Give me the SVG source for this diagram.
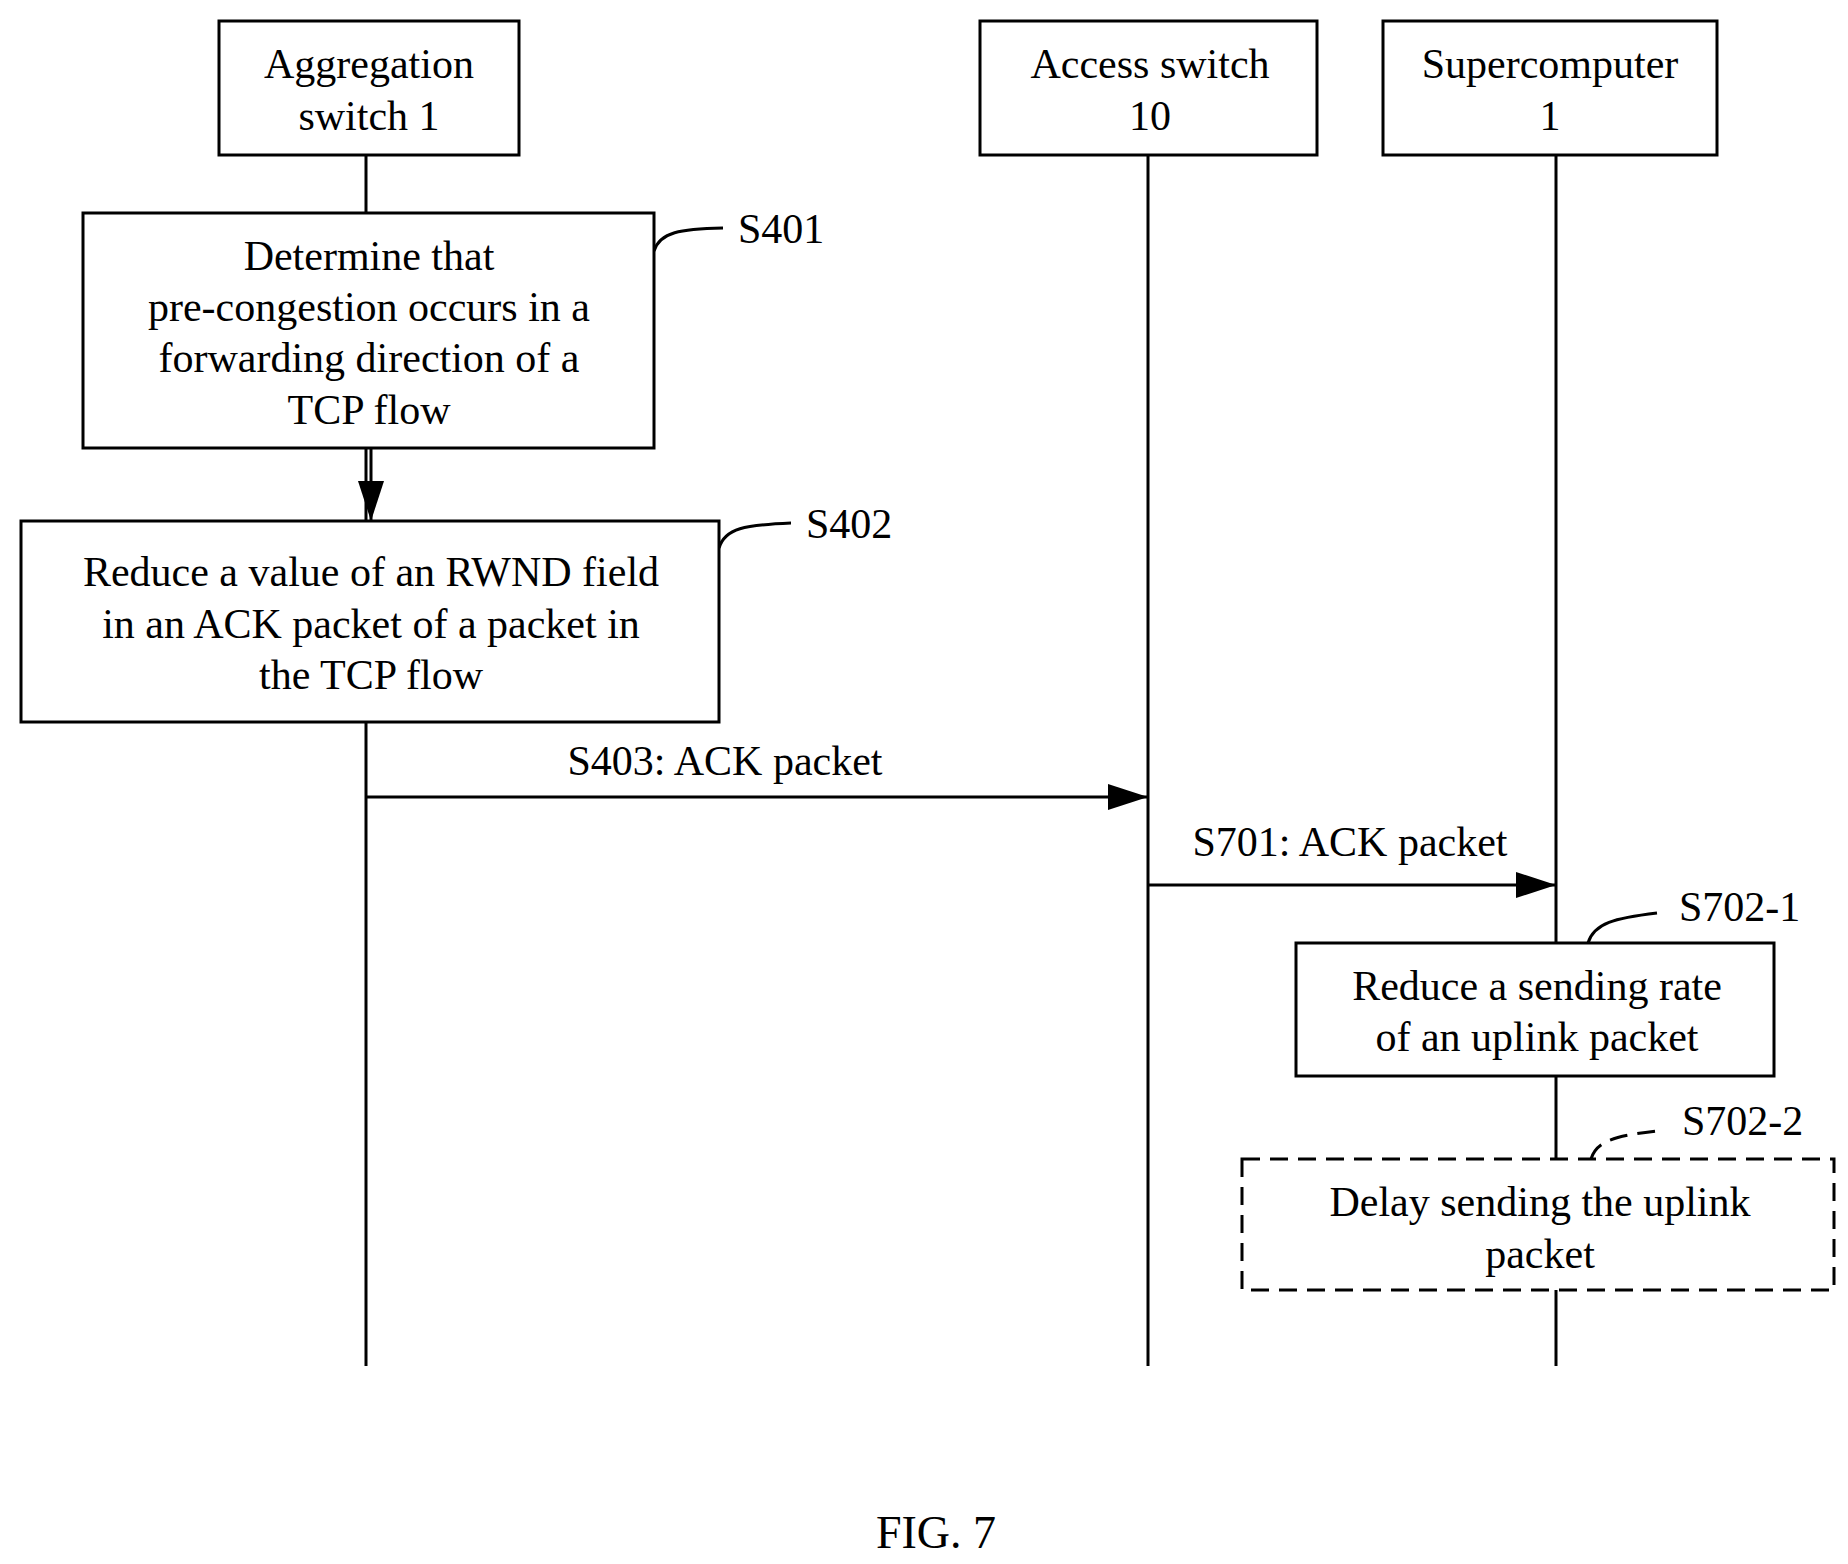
<svg xmlns="http://www.w3.org/2000/svg" width="1848" height="1564" viewBox="0 0 1848 1564">
<style>
text{font-family:"Liberation Serif","Times New Roman",serif;font-size:42px;fill:#000;text-anchor:middle}
.b{fill:#fff;stroke:#000;stroke-width:3}
.l{stroke:#000;stroke-width:3;fill:none}
.lab{text-anchor:start}
</style>
<defs><marker id="a" markerWidth="12" markerHeight="10" refX="12" refY="5" orient="auto" markerUnits="userSpaceOnUse"><path d="M0,0 L12,5 L0,10Z" fill="#000"/></marker>
<marker id="ab" viewBox="0 0 40 26" markerWidth="40" markerHeight="26" refX="40" refY="13" orient="auto" markerUnits="userSpaceOnUse"><path d="M0,0 L40,13 L0,26Z" fill="#000"/></marker></defs>
<g id="connectors">
<line class="l" x1="366" y1="155" x2="366" y2="1366"/>
<line class="l" x1="1148" y1="155" x2="1148" y2="1366"/>
<line class="l" x1="1556" y1="155" x2="1556" y2="1366"/>
<line class="l" x1="371" y1="448" x2="371" y2="521" marker-end="url(#ab)"/>
<line class="l" x1="366" y1="797" x2="1148" y2="797" marker-end="url(#ab)"/>
<line class="l" x1="1148" y1="885" x2="1556" y2="885" marker-end="url(#ab)"/>
<path class="l" d="M654,251 C660,232 680,229 723,228"/>
<path class="l" d="M719,548 C725,528 745,525 791,523"/>
<path class="l" d="M1588,943 C1594,923 1615,918 1657,913"/>
<path class="l" stroke-dasharray="18,10" d="M1591,1159 C1597,1139 1620,1135 1665,1130"/>
</g>
<g id="agg"><rect class="b" x="219" y="21" width="300" height="134"/><text x="369" y="78">Aggregation</text><text x="369" y="130">switch 1</text></g>
<g id="acc"><rect class="b" x="980" y="21" width="337" height="134"/><text x="1150" y="78">Access switch</text><text x="1150" y="130">10</text></g>
<g id="sup"><rect class="b" x="1383" y="21" width="334" height="134"/><text x="1550" y="78">Supercomputer</text><text x="1550" y="130">1</text></g>
<g id="s401"><rect class="b" x="83" y="213" width="571" height="235"/>
<text x="369" y="270">Determine that</text><text x="369" y="321">pre-congestion occurs in a</text><text x="369" y="372">forwarding direction of a</text><text x="369" y="424">TCP flow</text>
<text class="lab" x="738" y="243">S401</text></g>
<g id="s402"><rect class="b" x="21" y="521" width="698" height="201"/>
<text x="371" y="586">Reduce a value of an RWND field</text><text x="371" y="638">in an ACK packet of a packet in</text><text x="371" y="689">the TCP flow</text>
<text class="lab" x="806" y="538">S402</text></g>
<text x="725" y="775">S403: ACK packet</text>
<text x="1350" y="856">S701: ACK packet</text>
<g id="s7021"><rect class="b" x="1296" y="943" width="478" height="133"/>
<text x="1537" y="1000">Reduce a sending rate</text><text x="1537" y="1051">of an uplink packet</text>
<text class="lab" x="1679" y="921">S702-1</text></g>
<g id="s7022"><rect class="b" stroke-dasharray="18,10" x="1242" y="1159" width="592" height="131"/>
<text x="1540" y="1216">Delay sending the uplink</text><text x="1540" y="1268">packet</text>
<text class="lab" x="1682" y="1135">S702-2</text></g>
<text x="936" y="1548" style="font-size:46px">FIG. 7</text>
</svg>
